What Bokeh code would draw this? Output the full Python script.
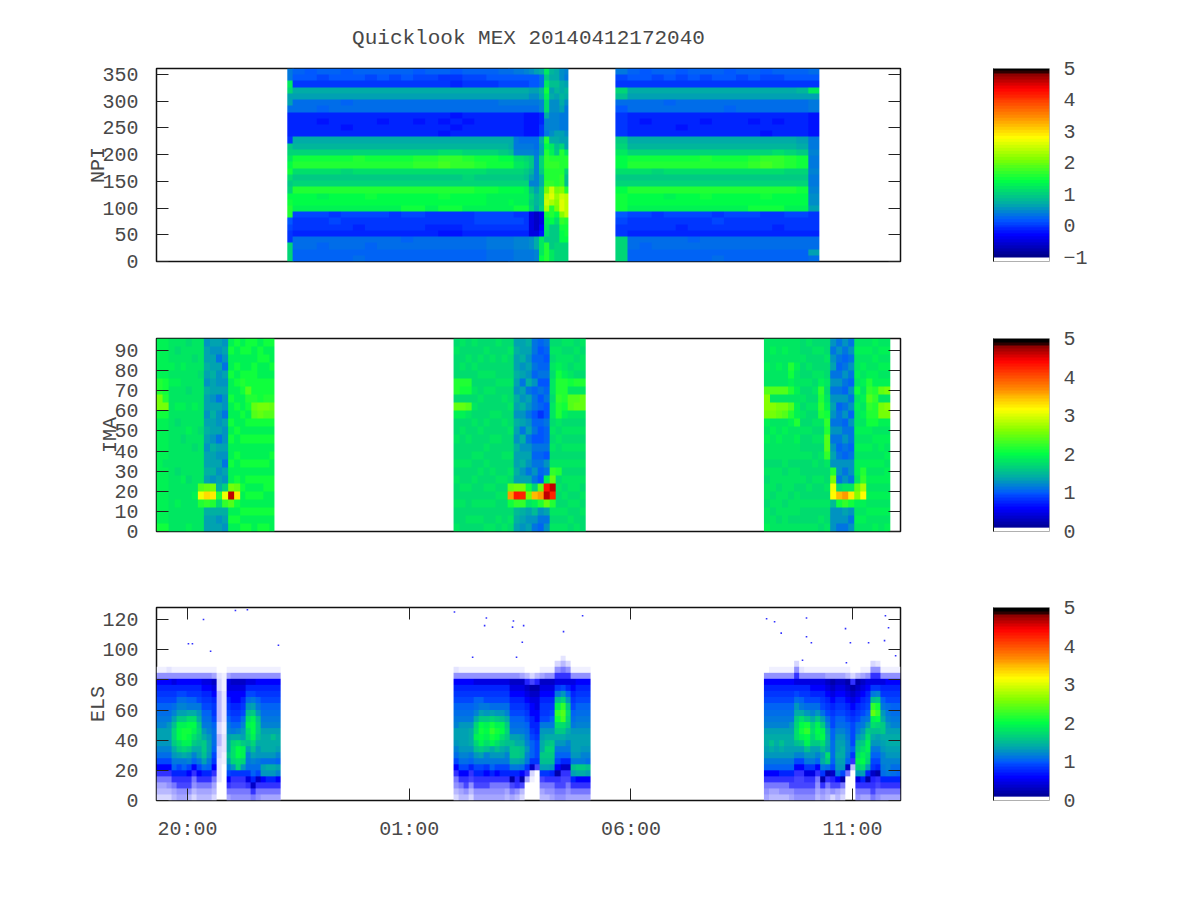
import numpy as np
from bokeh.plotting import figure
from bokeh.layouts import row, column
from bokeh.models import (Range1d, LinearAxis, FixedTicker, LinearColorMapper, Title)
from bokeh.embed import file_html
from bokeh.resources import INLINE

FONT = "Liberation Mono"
TEXT_COLOR = "#484848"
TITLE = "Quicklook MEX 20140412172040"
HOUR_TICKS = [20, 25, 30, 35]
HOUR_LABELS = {20: "20:00", 25: "01:00", 30: "06:00", 35: "11:00"}
NPI_TICKS = [0, 50, 100, 150, 200, 250, 300, 350]
IMA_TICKS = [0, 10, 20, 30, 40, 50, 60, 70, 80, 90]
ELS_TICKS = [0, 20, 40, 60, 80, 100, 120]
T_RANGE = (19.30, 36.08)

# one character per cell: 0..9 = -1.0..-0.1, a..z = 0.0..2.5, A..Z = 2.6..5.1, "." = no data
CODE = "0123456789abcdefghijklmnopqrstuvwxyzABCDEFGHIJKLMNOPQRSTUVWXYZ"

# NPI: columns of 31 cells, top of the panel first
NPI_EDGE_1 = ["ccmkffb66667jkmopljkopqq9877kkkk"]
NPI_MAIN_1 = [
    "a97gfbb6666ghkpqljkqoon8776bbaa", "997gfbb6666ghkpqljkqoon8776bbaa",
    "a87gfba6566ghkpqljkqnon8776baaa", "a97gfbb6666ghkpqljkqoon7876bbaa",
    "997gfab6656ghkpqkjkqoon8776bbaa", "a97gfbb6666ghkqqljkqoon8766bbab",
    "a87gfbb6666ghkpqljkqpon8776baaa", "a97gfbb6566ghkpqljkqoon8776bbaa",
    "a87gfbb6666ghkpqljkqoon7776bbaa", "a97gfbb6666ghkpqljkqoop8776abaa",
    "987gfbb6566ghkqrljkqoop8776bbaa", "a87gfbb6666ghkqrljkqoon7766bbaa",
    "a77gfbb6565ghlrsljkqpop7765bbaa", "976gfbb5656ghlrrljkqoop7765bbaa",
    "a87gfbb6566ghkqrlkkqoon7776bbaa", "a87gfbb6666ghkpqljkpoon8876bbaa",
    "a97gfbb6666ghkppkjkpnnn8876ccbb", "b98gfcb6666ghjopkjkonnn8876ccbb",
]
NPI_TAIL_1 = [
    "b98gfcb6666ggiopkjkonon8876ccbb", "c98gfcb6666ccdlmkjkonnp7876ddcc",
    "c98gfcb6666bcdlmkjkonnp7876ddcc", "d98gfcb5555bcdkljiknnnp7776ddcc",
    "e99fecb5555bcdjjhfdikjk3333eecc", "f99fecb5555bbcdddddfhhg2223ggdd",
    "gbbhgdd6677gffkkjggjjjk3345mmmo", "mjmpnllgddcqoqrrqqruyzxpnmljqqq",
    "hgifgeedddegmnqrqqrzAxqqojjjjmm", "ggihfeedddfgijqrqqquwvuoljjjkkk",
    "eegghgfcccffkqqqqrrvzAAvrpookkk", "dcfhgecccceffmqqkiiqyyyyqppokkk",
]
NPI_MAIN_2 = [
    "c87kib97777jkmooljkoppp9877kkkk", "a97gfbb6666ghkpqljkqoon8776bbaa",
    "997gfbb6566ghkpqljkqoon8776baaa", "a87gfbb6666ghkpqkjkqoon7776bbaa",
    "a97gfab6666ghkpqljkqnon8776bbaa", "987gfbb6656ghkpqljkqoon8766bbaa",
    "a97gfbb6666ghkpqljkqoon8776abaa", "a87gfbb6566ghkqqljkqpon8776bbaa",
    "a97gfbb6666ghkpqljkqoon7876bbab", "997gfba6666ghkpqljkqoon8776bbaa",
    "a87gfbb6666ghkpqljkqoon8776bbaa", "a97gfbb6566ghkqrljkqoop8776bbaa",
    "987gfbb6665ghkrsljkqpop7776bbaa", "a87gfbb6566ghlrrljkqoop7766bbaa",
    "a97gfbb6666ghkqqkjkqoon8776bbaa", "a97hfbb6666fgjppkjkpoon8776bbaa",
    "b97mfcc5555ccdccdccdeef7776bbfb",
]

# IMA: columns of 24 cells, top of the panel first
IMA_ORBIT_1 = [
    "rrrrrttxxsrrrrrrrrrrrrrs", "rrrrrsstxsrrrrrqrrrrrrrs", "qqqrqrqqqqqqqqqqqqqqqqqq",
    "qpqqqrqqrqpqqqqqpqqqrqqq", "qqqrqqqqrqqqpqqqqrqqqqqq", "pqqqqqpqqqqrqqqqqpqqqqqr",
    "qqpqqqqqrqqqqpqqqqqrqqqq", "qqqqpqqqqqqpqqqqqqvCtqqq", "kllmlkmllklmlkllmlwFumll",
    "lkllmllklmllkmllmkxEtmll", "lkjlkkljlkkljlklklmtpmkl", "klkjlklkkjlkklkjlkoCumlk",
    "rsrrsrrsrrsrsrrsrrxSvrsr", "srrsrsrrsrrsrrsrrswEsrsr", "rsrrstsrrsrrsrrsrrsrrsrs",
    "ssrrssvtsrsrsrrsrsrsrsrs", "srrsssstwvsrsrrsrsrsrsrr", "rssrrsssxwsrsrrsrsrsrsrs",
    "srsrrsstxvsrsrrsrssrrsrs", "srrsrsstwvsrsrsrrssrrsrr",
]
IMA_ORBIT_2 = [
    "pqpppttpwrppqppqpqppqppq", "qppqptspwrpqpppqppqpqppp", "ppqpptspvqppqppqppqpppqp",
    "qppqppqpqpqpppqppqppqpqp", "ppqpqppqpppqppqpqpppqpqp", "pqppqpqpppqppqpqppqpqppq",
    "ppqpqpqppqppqpppqpqpqppq", "qppppqpppqppqppppqpqppqp", "ppqppqpqppqpppqppqpqpppq",
    "pqpppqppqppqppqpqpwIspqp", "lmllmlkmlkmlkmllmlxPunml", "llmkljlkmkljmklmklxOumlk",
    "mlklkmjlkjkljklkjlsxqlkl", "jjijikijjhijhjijkjoGrnkj", "ihiijhjhigihhjijihwItkji",
    "jihijhijhhjiijhkjrPSwljk", "pqpqpqqpqqpqpqpquwSOtqpq", "pqqrsttuttqpqppqtpqppqpq",
    "qpqqrtttsrpqpqpqpqpqpqpq", "qpqpqsqvvqpqpqpqpqqpqpqp", "pqpqptqvwqpqpqpqpqqpqppq",
    "qpqqptqwwqpqpqpqpqpqpqpp",
]
IMA_ORBIT_3 = [
    "qqqrqqvyyxrqrqqpqpqqpqqr", "qrqqqqvqyxqrqqqpqqqpqpqq", "qqqrqqvqxwqqrqqpqqpqqqpq",
    "qrqqqqvqxvqrqqqqpqqqpqqq", "qqqtsrtqvtrqqqqpqqqpqqpq", "qqqrqqrqrrtqrqqpqqpqqqpq",
    "ppqppqpqpqpqppqppqppqppq", "qppqpqppqppqppqpppqpqppq", "pqppqpqpqpqpqppqpqppqppq",
    "pqppqrututqpqpqppqppqpqp", "ppqppqpqrsutvvuqppqpqppq", "kjkljkjklkjkjklktxCDnkkk",
    "jkjijkjkijjkjijkkjpGskkj", "kjijkjikjkijkjikjkqIulkj", "jkjkjikjkikjjijkkjqEskjk",
    "qrqqrqsqrqqrqrqrrqwyrqrq", "qrqrqrqrqrqrqrqrtuzDrqrq", "qrqqrtuvutsrqrqrqrqrqrqq",
    "rqrqrrtuttsqrqqrqrqrqrqr", "qrqrqrwqxxrqrrqrqrqrqrqq", "qrqrqrxqyxrqrqrqrrqrqrqr",
]
IMA_LEVEL = 0.25  # calibration of the letters above against the colour box

# ELS: columns of 24 cells covering energies 96 down to 0. Digits are sparse counts.
ELS_ORBIT_1 = [
    "..16efghijklnnmljhe97543", "..16efghijklnnmljhe97543", "..26efghijkmnnmljhe97643",
    "..16dfghjlnprrqomkif9754", "..16efhjlnqtuusqnkhf9865", "..16efhjlnqtvvtrokif9865",
    "..16efgikosuvutqnlhe9864", "..16efgikosutsqolie97643", "..16efghkmoqrqponkhe9754",
    "..16defghijkmoqqpnjf9754", "..16defghijklmnnmkif9754", "..15cdefgghijjjihge97543",
    "...233444443344332222...", "...111222221122211......", "..15ddefghiklnoopnkhe975",
    "..16cdeefghikorssrmg9876", "..16cdeefghilosuusrg9876", "..16cdefghjlmnqttrmg9876",
    "..16dfhjmpstsrpnlkjgd976", "..16dfhknqtuutrpnljifc97", "..16efgikmpqqpommkjhc976",
    "..16efghijklnooomjnme975", "..16efghijklnooomjomf975", "..16efghijklnpoomjomf975",
    "..16efghijklnoonlinle975",
]
ELS_ORBIT_2 = [
    "..26efghijklnnmljhe97643", "..16efghijkmnnnmljhe9754", "..16efghijkmnnnmljhe9864",
    "..16efghijkmooomkif98643", "..16dfgijlorstrpmkhf9865", "..16dfgiknquvutqnkhf9865",
    "..16dfghkmqtutsplkge9865", "..16dfghjnrvwvtomkif9765", "..16dfghjmqtvuspmkhe9765",
    "..16dfghjmptusqomkhf9765", "..16dfghjloqrqpnlkhf9754", "..16cdefghijknpqqokfb875",
    "..16cdefghijknoqqokfa964", "..15cdefghijkmoppnjeb843", "...4acdefghijklmlkg95...",
    "...38bcdeeffghiiigc31...", "...4abcddeeffghhhg8.....", "..15cdefgghkmnooqpng8754",
    "..16cdefgghkmoprqpng9764", "..16cdefghikmoqrqpmf9765", ".369dgkptwvsqomkiheb9876",
    "2479dhmrwyxsqomkifc98876", ".369dfimqsrqonlkifc98765", "..16defghijkmnnnmkpnf975",
    "..16efghijklmnnnmkqoe975", "..16efghijklmnnmlkqoe975", "..16efghijklmnnmljpne975",
]
ELS_ORBIT_3 = [
    "...6efghijklnoonmkie9765", "..16efghijklnopomkie9754", "..16efghijklnoonmkie9754",
    "..16efghijklnopomkif9764", "..16efghijklnoonmkif9764", "..16efghijkmnoonmkif9865",
    ".369dfhjmoqrsspnlhe98876", "..26dfgikosuvtqnlhe98876", "..16dfghjmqvwutpmkgd9876",
    "..16defhjlorsrqnmkgd9876", "..16defhjmqtutqnlie97654", "..16defghjnqtuspnokgb965",
    "..15cdefghjlnoonsqjb9754", "..15bcdefghhiijjjihca863", "..15cdefghijlmnnonmke854",
    "..15cdefghijlmnoonmhb743", "..14bcdefghijkllkic7....", "...39bcdefghhhhig94.....",
    "...4bcdefghjkmpqstrmd976", "..15cdefghjkmoqstusnf975", "..16defghiknqsttsrnfb975",
    ".369dgkpwztspomkihgca987", ".269dglqvwurpnmkihfb9876", "..16dfgikmoqqonmllkjf975",
    "..16efghjklmnoonmllkf975", "..16efghijklnoonmljjf975", "..16efghijklnoonmljif975",
]
ELS_STRAY_T = [20.36, 21.08, 21.35, 22.05, 20.52, 20.02, 20.11, 26.02, 26.74, 26.70, 27.35,
               27.58, 27.33, 27.55, 27.42, 26.43, 28.91, 28.48, 33.06, 33.24, 33.39, 33.96,
               33.96, 34.07, 34.84, 34.95, 35.36, 35.72, 35.81, 35.74, 35.97, 33.87, 34.86]
ELS_STRAY_E = [120, 126, 126.5, 103, 99, 104, 104, 125, 121, 116, 119,
               116, 115, 105, 95, 95, 122.5, 112, 120.5, 118.5, 111, 121,
               108.6, 104.6, 114, 104.6, 104.6, 106, 114.6, 122.5, 96, 93, 91.4]

# gnuplot-like colour ramp of the colour boxes
STOP_F = [0.0, 0.115, 0.20, 0.28, 0.40, 0.52, 0.63, 0.74, 0.89, 0.97, 0.98, 1.0]
STOP_F_MARKS = [0.0, 0.07, 0.15, 0.27, 0.40, 0.52, 0.63, 0.74, 0.89, 0.97, 0.98, 1.0]
STOP_R = [0, 0, 0, 0, 0, 130, 255, 255, 255, 130, 0, 0]
STOP_G = [0, 0, 90, 170, 255, 255, 255, 140, 0, 0, 0, 0]
STOP_B = [130, 255, 255, 170, 70, 0, 0, 0, 0, 0, 0, 0]
SPARSE_SHADES = [250, 240, 228, 215, 200, 185, 165, 145, 120, 95, 70, 50, 35]


def ramp(n, stops):
    f = (np.arange(n) + 0.5) / n
    r, g, b = (np.interp(f, stops, s).astype(int) for s in (STOP_R, STOP_G, STOP_B))
    return ["#%02x%02x%02x" % t for t in zip(r, g, b)]


JET = ramp(64, STOP_F)
JET_MARKS = ramp(64, STOP_F_MARKS)
PALE = ["#%02x%02x%02x" % (c, c, 255) for c in SPARSE_SHADES]
TRANSPARENT = "rgba(0,0,0,0)"
MAP_NPI = LinearColorMapper(palette=JET_MARKS, low=-1, high=5, nan_color=TRANSPARENT)
MAP_IMA = LinearColorMapper(palette=JET, low=0, high=5, nan_color=TRANSPARENT)
MAP_ELS = LinearColorMapper(palette=PALE + JET_MARKS, low=-1, high=5, nan_color=TRANSPARENT)


def decode(columns, cells, level=0.0):
    grid = [[-1.0 + CODE.index(c) * 0.1 + level if c != "." else np.nan
             for c in col.ljust(cells, ".")[:cells]] for col in columns]
    return np.array(grid).T[::-1]


def style(a):
    a.axis_line_color = None
    a.major_tick_in = 12
    a.major_tick_out = 0
    a.minor_tick_line_color = None
    a.major_tick_line_color = "#222222"
    a.major_tick_line_width = 1
    a.major_label_text_font = FONT
    a.major_label_text_font_size = "20px"
    a.major_label_text_color = TEXT_COLOR


def hide_labels(a):
    a.major_label_text_color = None
    a.major_label_text_font_size = "1px"
    a.major_label_standoff = 0


def panel(name, ticks, y_max, top, bottom, with_x):
    p = figure(frame_width=744, frame_height=193, x_range=Range1d(*T_RANGE), y_range=Range1d(0, y_max),
               toolbar_location=None, output_backend="svg", min_border_left=156, min_border_right=20,
               min_border_top=top, min_border_bottom=bottom, x_axis_location="below" if with_x else None,
               y_axis_location="left", background_fill_color="white", outline_line_color="#111111",
               outline_line_width=1.5)
    p.grid.visible = False
    y = p.yaxis[0]
    y.ticker = FixedTicker(ticks=ticks)
    style(y)
    y.major_label_standoff = 18
    y.axis_label = name
    y.axis_label_standoff = -11
    y.axis_label_text_font = FONT
    y.axis_label_text_font_size = "20px"
    y.axis_label_text_font_style = "normal"
    y.axis_label_text_color = TEXT_COLOR
    blank = LinearAxis(ticker=FixedTicker(ticks=ticks))
    style(blank)
    hide_labels(blank)
    p.add_layout(blank, "right")
    if with_x:
        x = p.xaxis[0]
        x.ticker = FixedTicker(ticks=HOUR_TICKS)
        x.major_label_overrides = HOUR_LABELS
        style(x)
        x.major_label_standoff = 17
        ax = LinearAxis(ticker=FixedTicker(ticks=HOUR_TICKS))
        style(ax)
        hide_labels(ax)
        p.add_layout(ax, "above")
    return p


def box(lo, hi, ticks, overrides, top, bottom, y_low, img_low):
    p = figure(frame_width=56, frame_height=193, x_range=Range1d(0, 1), y_range=Range1d(y_low, hi),
               toolbar_location=None, output_backend="svg", min_border_left=73, min_border_right=100,
               min_border_top=top, min_border_bottom=bottom, x_axis_location=None, y_axis_location=None,
               outline_line_color="#b0b0b0", outline_line_width=1)
    p.grid.visible = False
    levels = np.linspace(img_low, hi, 128)[:, None]
    p.image(image=[levels], x=0, y=img_low, dw=1, dh=hi - img_low,
            color_mapper=LinearColorMapper(palette=JET, low=lo, high=hi))
    ax = LinearAxis(ticker=FixedTicker(ticks=ticks), major_label_overrides=overrides)
    style(ax)
    ax.major_tick_line_color = None
    ax.major_label_standoff = 14
    p.add_layout(ax, "right")
    left = LinearAxis(ticker=FixedTicker(ticks=[]))
    left.axis_line_color = "#111111"
    left.major_tick_line_color = None
    left.minor_tick_line_color = None
    left.major_label_text_color = None
    left.major_label_text_font_size = "1px"
    left.major_label_standoff = 0
    p.add_layout(left, "left")
    return p


# ---- NPI
p1 = panel("NPI", NPI_TICKS, 361, 68, 30, False)
for cols, t0, t1 in [(NPI_EDGE_1, 22.25, 22.39), (NPI_MAIN_1, 22.37, 27.26), (NPI_TAIL_1, 27.24, 28.59),
                     (NPI_MAIN_2, 29.65, 34.25)]:
    p1.image(image=[decode(cols, 31)], x=t0, y=0, dw=t1 - t0, dh=361, color_mapper=MAP_NPI)
t = Title(text=TITLE, align="center", text_font=FONT, text_font_size="21px", text_font_style="normal",
          text_color=TEXT_COLOR, standoff=37)
p1.add_layout(t, "above")

# ---- IMA
p2 = panel("IMA", IMA_TICKS, 96, 47, 30, False)
for cols, t0, t1 in [(IMA_ORBIT_1, 19.30, 21.96), (IMA_ORBIT_2, 26.0, 28.98), (IMA_ORBIT_3, 33.0, 35.85)]:
    p2.image(image=[decode(cols, 24, IMA_LEVEL)], x=t0, y=0, dw=t1 - t0, dh=96, color_mapper=MAP_IMA)

# ---- ELS
p3 = panel("ELS", ELS_TICKS, 128, 46, 70, True)
for cols, t0, t1 in [(ELS_ORBIT_1, 19.30, 22.10), (ELS_ORBIT_2, 26.0, 29.09), (ELS_ORBIT_3, 33.0, 36.08)]:
    p3.image(image=[decode(cols, 24)], x=t0, y=0, dw=t1 - t0, dh=96, color_mapper=MAP_ELS)
p3.scatter(ELS_STRAY_T, ELS_STRAY_E, marker="square", size=1.6, fill_color="#3030ff", line_color=None)

# ---- colour boxes
c1 = box(-1, 5, [-1, 0, 1, 2, 3, 4, 5], {-1: "\u22121"}, 68, 30, -1.127, -1)
c2 = box(0, 5, [0, 1, 2, 3, 4, 5], {}, 47, 30, 0, 0.1)
c3 = box(0, 5, [0, 1, 2, 3, 4, 5], {}, 46, 70, 0, 0.1)

page = row(column(p1, p2, p3, spacing=0), column(c1, c2, c3, spacing=0), spacing=0)
open("out.html", "w").write(file_html(page, INLINE))
